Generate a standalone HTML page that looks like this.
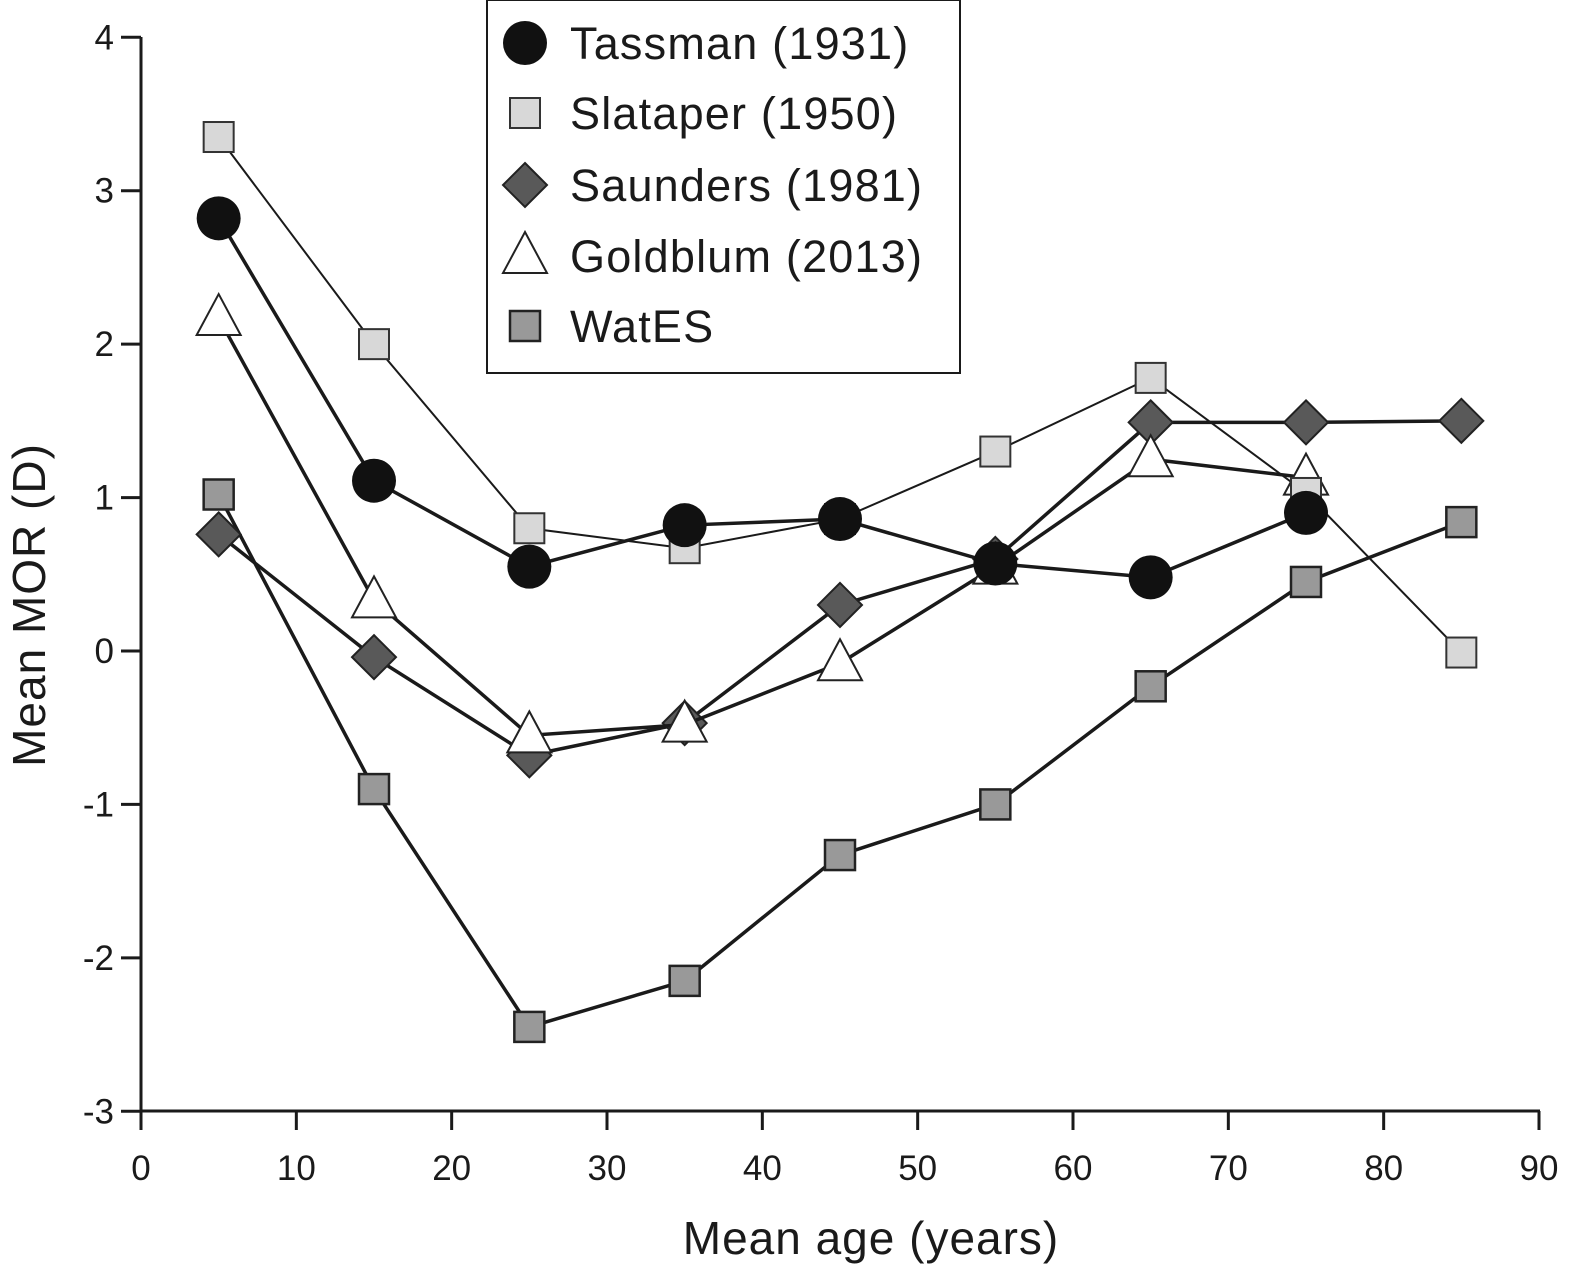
<!DOCTYPE html>
<html><head><meta charset="utf-8"><style>
body{margin:0;background:#fff}
svg{display:block}
text{font-family:"Liberation Sans",Arial,sans-serif;fill:#1a1a1a}
</style></head><body>
<svg id="chart" width="1576" height="1269" viewBox="0 0 1576 1269" xmlns="http://www.w3.org/2000/svg"></svg>
<script>
const ages=[5,15,25,35,45,55,65,75,85];
const xTicks=[0,10,20,30,40,50,60,70,80,90];
const yTicks=[4,3,2,1,0,-1,-2,-3];
const tassman=[2.82,1.11,0.55,0.82,0.86,0.57,0.48,0.90,null];
const slataper=[3.35,2.0,0.80,0.67,0.86,1.30,1.78,1.03,-0.01];
const saunders=[0.76,-0.04,-0.68,-0.47,0.30,0.60,1.49,1.49,1.50];
const goldblum=[2.17,0.33,-0.55,-0.48,-0.08,0.55,1.25,1.13,null];
const wates=[1.02,-0.90,-2.45,-2.15,-1.33,-1.00,-0.23,0.45,0.84];
const seriesNames=["Tassman (1931)","Slataper (1950)","Saunders (1981)","Goldblum (2013)","WatES"];

const NS="http://www.w3.org/2000/svg";
const svg=document.getElementById('chart');
const X=v=>141+(v-0)*(1539-141)/90;
const Y=v=>651-v*153.43;
function el(tag,attrs,parent){const e=document.createElementNS(NS,tag);for(const k in attrs)e.setAttribute(k,attrs[k]);(parent||svg).appendChild(e);return e;}

const ax=el('g',{});


el('line',{x1:141,y1:37,x2:141,y2:1112,stroke:'#1a1a1a','stroke-width':3},ax);
el('line',{x1:140,y1:1111,x2:1540,y2:1111,stroke:'#1a1a1a','stroke-width':3},ax);
yTicks.forEach(t=>{
  el('line',{x1:121,y1:Y(t),x2:141,y2:Y(t),stroke:'#1a1a1a','stroke-width':3},ax);
  const tx=el('text',{x:114,y:Y(t)+12,'font-size':35,'text-anchor':'end'},ax);tx.textContent=t;
  
  
});
xTicks.forEach(t=>{
  el('line',{x1:X(t),y1:1111,x2:X(t),y2:1130,stroke:'#1a1a1a','stroke-width':3},ax);
  const tx=el('text',{x:X(t),y:1180,'font-size':35,'text-anchor':'middle'},ax);tx.textContent=t;
  
  
});
const xt=el('text',{x:871,y:1254,'font-size':46,'letter-spacing':1,'text-anchor':'middle'});xt.textContent='Mean age (years)';


const yt=el('text',{x:0,y:0,'font-size':46,'letter-spacing':1,'text-anchor':'middle',transform:'translate(45,605) rotate(-90)'});yt.textContent='Mean MOR (D)';



function marker(kind,cx,cy,g){
  if(kind==='circle')return el('circle',{cx,cy,r:22,fill:'#111'},g);
  if(kind==='lsq')return el('rect',{x:cx-15,y:cy-15,width:30,height:30,fill:'#d8d8d8',stroke:'#333','stroke-width':2},g);
  if(kind==='diamond')return el('polygon',{points:`${cx},${cy-22} ${cx+22},${cy} ${cx},${cy+22} ${cx-22},${cy}`,fill:'#595959',stroke:'#222','stroke-width':2},g);
  if(kind==='tri')return el('polygon',{points:`${cx},${cy-24} ${cx+22},${cy+17} ${cx-22},${cy+17}`,fill:'#fff',stroke:'#222','stroke-width':2},g);
  if(kind==='dsq')return el('rect',{x:cx-15,y:cy-15,width:30,height:30,fill:'#999',stroke:'#222','stroke-width':2.5},g);
}
const defs=[
 {vals:wates,kind:'dsq',w:3.5,name:'series-wates'},
 {vals:saunders,kind:'diamond',w:3.5,name:'series-saunders'},
 {vals:goldblum,kind:'tri',w:3.5,name:'series-goldblum'},
 {vals:slataper,kind:'lsq',w:2,name:'series-slataper'},
 {vals:tassman,kind:'circle',w:3.5,name:'series-tassman'}
];
defs.forEach(d=>{
  const g=el('g',{});
  
  
  const pts=[];d.vals.forEach((v,i)=>{if(v!==null)pts.push([X(ages[i]),Y(v)]);});
  const pl=el('polyline',{points:pts.map(p=>p.join(',')).join(' '),fill:'none',stroke:'#1a1a1a','stroke-width':d.w},g);
  
  
  pts.forEach(p=>{const m=marker(d.kind,p[0],p[1],g);
    
    });
});

const lg=el('g',{});


el('rect',{x:487,y:0,width:473,height:373,fill:'#fff',stroke:'#1a1a1a','stroke-width':2},lg);
const kinds=['circle','lsq','diamond','tri','dsq'];
const ly=[43,113,185,256,326];
seriesNames.forEach((n,i)=>{
  const m=marker(kinds[i],525,ly[i],lg);
  
  
  const t=el('text',{x:570,y:ly[i]+16,'font-size':45,'letter-spacing':1.2},lg);t.textContent=n;
  
  
});
</script>
</body></html>
